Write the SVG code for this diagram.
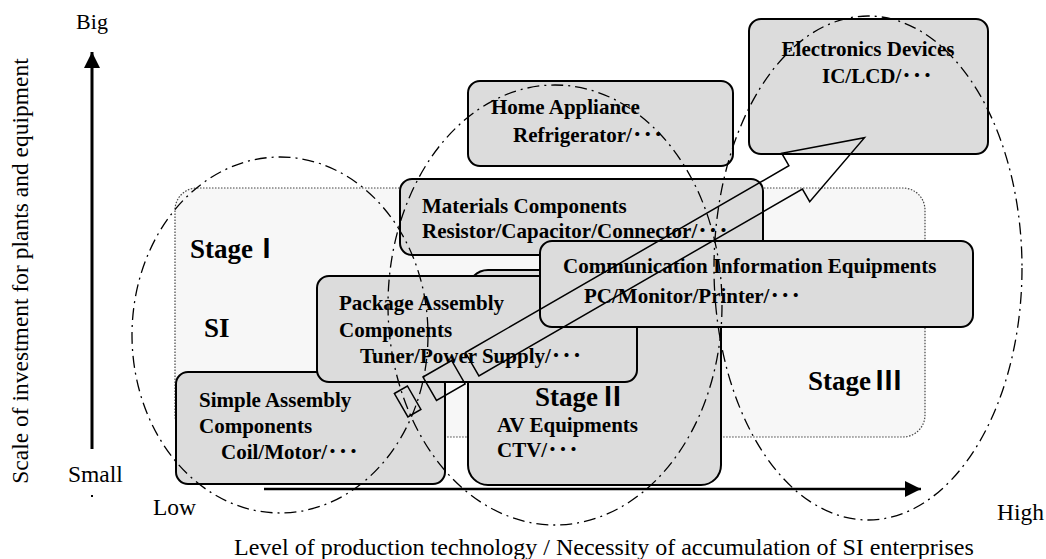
<svg xmlns="http://www.w3.org/2000/svg" width="1046" height="559" viewBox="0 0 1046 559">
<style>
.box{fill:#dcdcdc;stroke:#000;stroke-width:2}
.bt{font-family:"Liberation Serif","Noto Sans CJK JP",serif;font-weight:bold;font-size:21px;fill:#000}
.st{font-family:"Liberation Serif","Noto Sans CJK JP",serif;font-weight:bold;font-size:27px;fill:#000}
.rn{font-family:"Noto Sans CJK JP",sans-serif;font-weight:bold}
.ax{font-family:"Liberation Serif",serif;font-size:23.5px;fill:#000}
.ell{fill:none;stroke:#000;stroke-width:1.3;stroke-dasharray:12 5 2 5}
.arr{fill:none;stroke:#000;stroke-width:1.5;stroke-linejoin:miter}
</style>
<defs>
<marker id="ah" viewBox="0 0 16 16" refX="16" refY="8" markerWidth="16" markerHeight="16" markerUnits="userSpaceOnUse" orient="auto">
<path d="M0,0 L16,8 L0,16 Z" fill="#000"/>
</marker>
</defs>

<g id="stage-area">
<rect x="175" y="188" width="750" height="249" rx="22" fill="#f7f7f7" stroke="#444" stroke-width="1.2" stroke-dasharray="1.5 1.5"/>
</g>

<g id="electronics">
<rect class="box" x="749" y="19" width="239" height="135" rx="12"/>
<text class="bt" x="868" y="56" text-anchor="middle">Electronics Devices</text>
<text class="bt" x="822" y="83">IC/LCD/･･･</text>
</g>

<g id="home-appliance">
<rect class="box" x="468" y="81" width="265" height="85" rx="12"/>
<text class="bt" x="491" y="114">Home Appliance</text>
<text class="bt" x="513" y="142">Refrigerator/･･･</text>
</g>

<g id="materials">
<rect class="box" x="400" y="179" width="363" height="76" rx="12"/>
<text class="bt" x="422" y="213">Materials Components</text>
<text class="bt" x="422" y="238">Resistor/Capacitor/Connector/･･･</text>
</g>

<g id="av-equipments">
<rect class="box" x="468" y="270" width="253" height="215" rx="20"/>
<text class="st" x="535" y="406">Stage<tspan class="rn" dx="1">Ⅱ</tspan></text>
<text class="bt" x="497" y="432">AV Equipments</text>
<text class="bt" x="497" y="457">CTV/･･･</text>
</g>

<g id="simple-assembly">
<rect class="box" x="176" y="372" width="269" height="112" rx="12"/>
<text class="bt" x="199" y="407">Simple Assembly</text>
<text class="bt" x="199" y="433">Components</text>
<text class="bt" x="221" y="459">Coil/Motor/･･･</text>
</g>

<g id="package-assembly">
<rect class="box" x="317" y="276" width="320" height="106" rx="12"/>
<text class="bt" x="339" y="310">Package Assembly</text>
<text class="bt" x="339" y="337">Components</text>
<text class="bt" x="360" y="363">Tuner/Power Supply/･･･</text>
</g>

<g id="communication">
<rect class="box" x="540" y="241" width="433" height="86" rx="12"/>
<text class="bt" x="563" y="273">Communication Information Equipments</text>
<text class="bt" x="584" y="303">PC/Monitor/Printer/･･･</text>
</g>

<g id="stage-labels">
<text class="st" x="190" y="258">Stage<tspan class="rn" dx="0">Ⅰ</tspan></text>
<text class="st" x="204" y="337">SI</text>
<text class="st" x="808" y="390">Stage<tspan class="rn" dx="4">Ⅲ</tspan></text>
</g>

<g id="connectors">
<g id="progress-arrow">
<polygon class="arr" points="394.4,393.5 407.4,386 420.9,409.4 407.9,416.9"/>
<polygon class="arr" points="423,377 451.6,360.5 465.1,383.9 436.5,400.4"/>
<polygon class="arr" points="465.4,352.5 788.9,165.75 781.7,153.2 864.5,137.7 809.7,201.7 802.4,189.1 478.9,375.9"/>
</g>
<g id="stage-ellipses">
<ellipse class="ell" cx="280" cy="335" rx="148" ry="178"/>
<ellipse class="ell" cx="555" cy="305" rx="167" ry="220"/>
<ellipse class="ell" cx="868" cy="268" rx="154" ry="252"/>
</g>
<g id="axes">
<line x1="92" y1="449" x2="92" y2="52" stroke="#000" stroke-width="3" marker-end="url(#ah)"/>
<line x1="264" y1="489" x2="921" y2="489" stroke="#000" stroke-width="2.5" marker-end="url(#ah)"/>
</g>
</g>

<g id="axis-labels">
<text class="ax" x="92" y="29" text-anchor="middle" style="font-size:22px">Big</text>
<text class="ax" x="68" y="482">Small</text>
<rect x="91" y="495" width="2" height="2" fill="#000"/>
<text class="ax" x="153" y="515">Low</text>
<text class="ax" x="997" y="520">High</text>
<text class="ax" x="234" y="555" style="font-size:24px">Level of production technology / Necessity of accumulation of SI enterprises</text>
<text class="ax" transform="translate(28,271) rotate(-90)" text-anchor="middle">Scale of investment for plants and equipment</text>
</g>
</svg>
